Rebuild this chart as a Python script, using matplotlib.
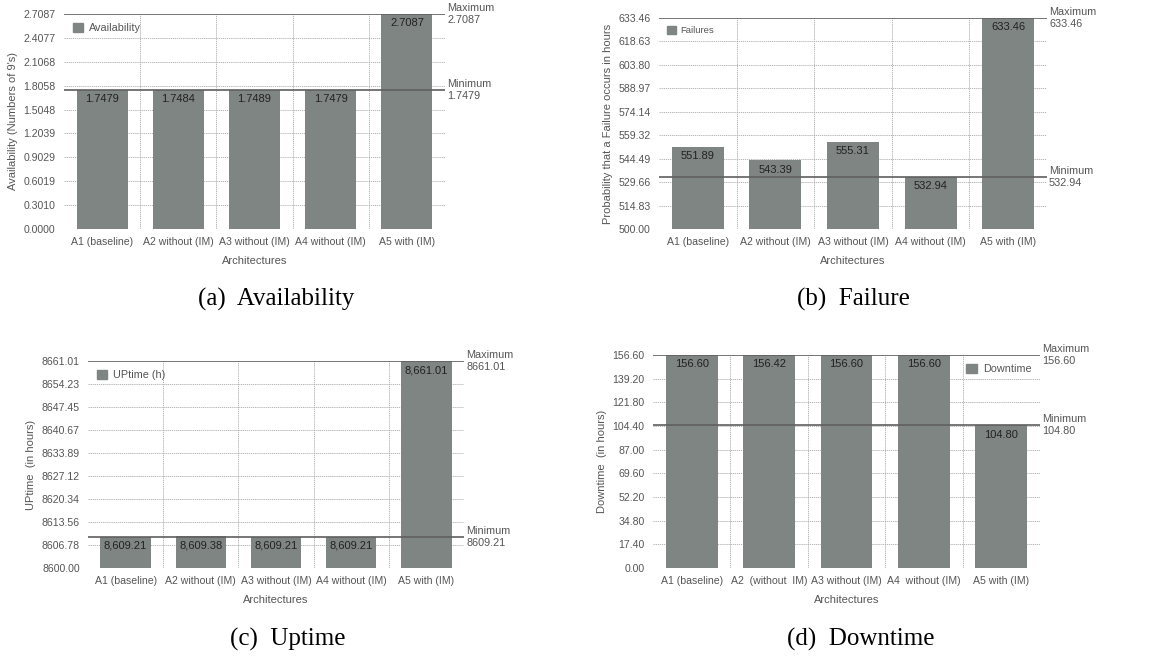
import numpy as np
import matplotlib
matplotlib.use("Agg")
import matplotlib.pyplot as plt
from matplotlib.patches import Patch

plt.rcParams['font.family'] = ['Liberation Sans', 'DejaVu Sans']

arch_labels = ["A1 (baseline)", "A2 without (IM)", "A3 without (IM)", "A4 without (IM)", "A5 with (IM)"]
arch_labels_d = ["A1 (baseline)", "A2  (without  IM)", "A3 without (IM)", "A4  without (IM)", "A5 with (IM)"]

availability = [1.7479, 1.7484, 1.7489, 1.7479, 2.7087]
failures = [551.89, 543.39, 555.31, 532.94, 633.46]
uptime = [8609.21, 8609.38, 8609.21, 8609.21, 8661.01]
downtime = [156.60, 156.42, 156.60, 156.60, 104.80]

BAR = '#7f8582'
TXT = '#555555'
W, H = 1150, 657


def px_axes(fig, left, right, top, bottom):
    return fig.add_axes([left / W, (H - bottom) / H, (right - left) / W, (bottom - top) / H])


def draw_panel(ax, values, labels, ymin, ymax, dec, ylabel, legend_label,
               legend_loc='upper left', comma=False, legend_size=7.8):
    x = np.arange(len(values))
    ax.bar(x, values, width=0.67, color=BAR, zorder=2)
    ax.set_xlim(-0.5, len(values) - 0.5)
    ax.set_ylim(ymin, ymax)
    ticks = np.linspace(ymin, ymax, 10)
    ax.set_yticks(ticks)
    ax.set_yticklabels([f"{t:.{dec}f}" for t in ticks])
    ax.set_xticks(x)
    ax.set_xticklabels(labels)
    ax.tick_params(length=0, labelsize=7.6, colors=TXT, pad=6)
    for s in ax.spines.values():
        s.set_visible(False)
    for t in ticks[:-1]:
        ax.axhline(t, color='#aaaaaa', lw=0.6, ls=(0, (1.5, 1)), zorder=1)
    for b in np.arange(0.5, len(values), 1.0):
        ax.axvline(b, color='#aaaaaa', lw=0.6, ls=(0, (1.5, 1)), zorder=1)
    ax.set_xlabel("Architectures", fontsize=8, color=TXT, labelpad=6)
    ax.set_ylabel(ylabel, fontsize=8, color=TXT, labelpad=4)

    for xi, v in zip(x, values):
        txt = f"{v:,.{dec}f}" if comma else f"{v:.{dec}f}"
        ax.annotate(txt, (xi, v), xytext=(0, -3), textcoords='offset points',
                    ha='center', va='top', fontsize=8, color='#222222', zorder=3)

    vmax, vmin = max(values), min(values)
    for name, v in (("Maximum", vmax), ("Minimum", vmin)):
        ax.axhline(v, color='#5f5f5f', lw=1.2, zorder=4)
        ax.annotate(f"{name}\n{v:.{dec}f}", (1, v), xycoords=('axes fraction', 'data'),
                    xytext=(1.5, 0), textcoords='offset points', ha='left', va='center',
                    fontsize=7.8, color=TXT, linespacing=1.25, annotation_clip=False)

    handle = Patch(color=BAR)
    ax.legend([handle], [legend_label], loc=legend_loc, frameon=False, fontsize=legend_size,
              handlelength=1.0, handleheight=1.0, handletextpad=0.5,
              borderaxespad=0.4, labelcolor=TXT)


fig = plt.figure(figsize=(11.5, 6.57), dpi=100)

ax_a = px_axes(fig, 64, 445, 14, 229)
draw_panel(ax_a, availability, arch_labels, 0.0, 2.7087, 4,
           "Availability (Numbers of 9's)", "Availability")

ax_b = px_axes(fig, 659, 1047, 18, 229)
draw_panel(ax_b, failures, arch_labels, 500.0, 633.46, 2,
           "Probability that a Failure occurs in hours", "Failures", legend_size=6.8)

ax_c = px_axes(fig, 88, 464, 361, 568)
draw_panel(ax_c, uptime, arch_labels, 8600.0, 8661.01, 2,
           "UPtime  (in hours)", "UPtime (h)", comma=True)

ax_d = px_axes(fig, 653, 1040, 355, 568)
draw_panel(ax_d, downtime, arch_labels_d, 0.0, 156.60, 2,
           "Downtime  (in hours)", "Downtime", legend_loc='upper right')

cap = dict(ha='center', va='center', fontsize=18, family=['Liberation Serif', 'DejaVu Serif'])
fig.text(276 / W, 1 - 299 / H, "(a)  Availability", **cap)
fig.text(853 / W, 1 - 299 / H, "(b)  Failure", **cap)
fig.text(288 / W, 1 - 639 / H, "(c)  Uptime", **cap)
fig.text(861 / W, 1 - 639 / H, "(d)  Downtime", **cap)

fig.savefig("out.png", dpi=100)
